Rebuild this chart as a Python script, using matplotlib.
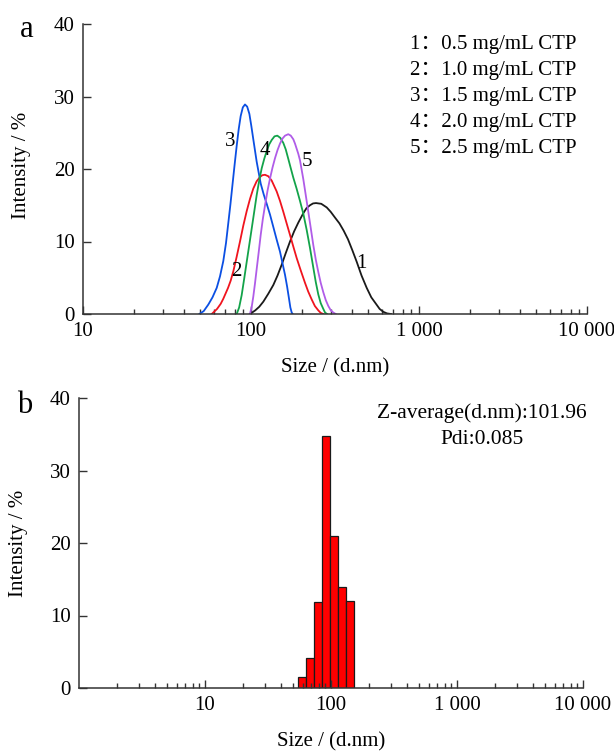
import numpy as np
import matplotlib
matplotlib.use("Agg")
import matplotlib.pyplot as plt
from matplotlib.ticker import LogLocator, NullFormatter

plt.rcParams['font.family'] = ['Liberation Serif', 'Noto Sans CJK SC']

# ---- panel a: intensity distributions for five CTP concentrations ----
size_1 = [98.6, 106, 112, 118.4, 126.8, 135.8, 143.8, 152.3, 161, 170.7,
          180.6, 191.2, 204.8, 214, 224.5, 234, 243.8, 262, 282.3, 298,
          316.2, 336, 356, 377.9, 401, 425.8, 455, 488.4, 520, 554.6,
          583, 613.2, 645, 681.4]
int_1 = [0, 0.5, 1.0, 1.7, 2.8, 4.0, 5.3, 6.8, 8.4, 10.0,
         11.4, 12.6, 13.9, 14.6, 15.0, 15.25, 15.3, 15.2, 14.7, 14.1,
         13.3, 12.5, 11.5, 10.3, 8.8, 7.2, 5.3, 3.6, 2.3, 1.4,
         0.7, 0.3, 0.08, 0]

size_2 = [58.4, 62.8, 66, 68.4, 73.0, 75.7, 78.5, 82, 86.0, 90,
          94.3, 98.7, 103.2, 108, 113.1, 117, 121.2, 126.8, 132.8, 142.2,
          148.8, 155.7, 163, 170.7, 178.6, 187.1, 197.8, 209.6, 219, 229.8,
          240, 251.5, 260, 269.4]
int_2 = [0, 0.7, 1.4, 2.1, 3.6, 4.6, 5.9, 7.8, 10.0, 12.2,
         14.2, 15.9, 17.3, 18.3, 18.9, 19.15, 19.2, 19.0, 18.4, 16.9,
         15.6, 14.1, 12.5, 10.9, 9.3, 7.7, 6.0, 4.3, 3.1, 2.0,
         1.1, 0.5, 0.15, 0]

size_3 = [49.3, 52.3, 55.7, 59.0, 62.5, 65.4, 68.4, 71.0, 73.3, 75.4,
          77.4, 79.8, 82.2, 84.5, 86.8, 89.4, 92.1, 94.9, 97.8, 100.5,
          103.2, 108.1, 114.2, 119, 124.0, 129.8, 135.8, 142, 148.8, 154,
          159.4, 164, 168.4, 171.5, 174.7, 177]
int_3 = [0, 0.4, 1.3, 2.3, 3.6, 5.2, 7.3, 9.8, 12.6, 15.1,
         17.6, 20.5, 23.2, 25.5, 27.3, 28.5, 28.9, 28.6, 27.6, 25.9,
         24.1, 21.0, 18.0, 16.5, 15.2, 13.7, 12.0, 10.3, 8.6, 7.0,
         5.4, 3.8, 2.1, 0.9, 0.2, 0]

size_4 = [82.2, 85, 88.0, 91, 94.3, 97.6, 101, 104.5, 108.1, 111.9,
          115.8, 119.9, 124.1, 128.4, 132.8, 138, 143.4, 149.4, 155.7, 161,
          166.7, 172.5, 178.6, 186.8, 195.7, 205, 214.5, 224.5, 234.9, 243,
          251.5, 260, 269.4, 276, 283.4]
int_4 = [0, 0.9, 2.6, 4.8, 7.2, 9.5, 11.8, 14.1, 16.4, 18.4,
         20.1, 21.4, 22.5, 23.4, 24.0, 24.5, 24.6, 24.3, 23.6, 22.7,
         21.4, 20.1, 18.8, 17.3, 15.6, 13.8, 11.6, 9.1, 6.4, 4.4,
         2.7, 1.5, 0.7, 0.2, 0]

size_5 = [98.6, 101, 103.2, 105.6, 108.1, 111.1, 114.2, 117.6, 121.2, 125.4,
          129.8, 134.3, 139.0, 143.8, 148.8, 154, 159.4, 166.7, 172.5, 178.6,
          182.8, 191.2, 195.7, 204.8, 211.8, 219.3, 227, 234.9, 243, 251.5,
          260, 269.4, 278.8, 288.6, 298.6, 309, 319.3]
int_5 = [0, 1.0, 2.4, 4.2, 6.2, 8.5, 10.9, 13.1, 15.0, 17.0,
         18.7, 20.2, 21.5, 22.6, 23.5, 24.2, 24.6, 24.8, 24.6, 24.1,
         23.5, 22.1, 21.2, 18.6, 16.4, 14.1, 11.8, 9.5, 7.5, 5.8,
         4.3, 3.0, 1.9, 1.1, 0.5, 0.2, 0]

curve_tags = ['1', '2', '3', '4', '5']
concentrations = ['0.5', '1.0', '1.5', '2.0', '2.5']
curve_colors = ['#1a1a1a', '#f0141e', '#0b4fe3', '#13a34a', '#b05ce8']
# where each curve number is written (size, intensity)
tag_size = [456, 82.2, 75.0, 121.2, 214.6]
tag_int = [7.0, 5.8, 23.8, 22.6, 21.0]

# ---- panel b: size histogram of the selected sample ----
bin_size = [58.77, 68.06, 78.82, 91.28, 105.7, 122.4, 141.8]
bin_int = [1.5, 4.1, 11.9, 34.7, 21.0, 14.0, 12.0]
z_average = '101.96'
pdi = '0.085'

xtick_vals = [10, 100, 1000, 10000]
xtick_text = ['10', '100', '1 000', '10 000']

W, H = 614, 751
fig = plt.figure(figsize=(W / 100, H / 100), dpi=100)


def style_axes(ax, xmin):
    ax.set_xscale('log')
    ax.set_xlim(xmin, 10000)
    ax.set_ylim(0, 40)
    ax.spines['top'].set_visible(False)
    ax.spines['right'].set_visible(False)
    for s in ('left', 'bottom'):
        ax.spines[s].set_linewidth(1.1)
        ax.spines[s].set_color('#333333')
    ax.set_xticks(xtick_vals)
    ax.set_xticklabels(xtick_text)
    ax.set_yticks([0, 10, 20, 30, 40])
    ax.xaxis.set_minor_locator(LogLocator(base=10, subs=range(2, 10)))
    ax.xaxis.set_minor_formatter(NullFormatter())
    ax.tick_params(which='both', direction='in', color='#333333', width=1.0)
    ax.tick_params(which='major', length=6, labelsize=15, pad=6)
    ax.tick_params(which='minor', length=3.5)


# panel a
ax1 = fig.add_axes([83 / W, 1 - 314 / H, 504 / W, 290 / H])
style_axes(ax1, 10)
series = [(size_1, int_1), (size_2, int_2), (size_3, int_3),
          (size_4, int_4), (size_5, int_5)]
for (sx, sy), c in zip(series, curve_colors):
    ax1.plot(sx, sy, color=c, lw=1.3, solid_joinstyle='round')
for t, sx, sy in zip(curve_tags, tag_size, tag_int):
    ax1.text(sx, sy, t, fontsize=15, ha='center', va='center')
for i, (t, c) in enumerate(zip(curve_tags, concentrations)):
    fig.text(410 / W, 1 - (45 + i * 25.8) / H, f'{t}：{c} mg/mL CTP',
             fontsize=15, ha='left', va='center')

fig.text(27 / W, 1 - 37 / H, 'a', fontsize=22, ha='center', va='baseline')
fig.text(22 / W, 1 - 165 / H, 'Intensity / %', fontsize=15, rotation=90,
         ha='center', va='center')
fig.text(335 / W, 1 - 368 / H, 'Size / (d.nm)', fontsize=15,
         ha='center', va='center')

# panel b
ax2 = fig.add_axes([79 / W, 1 - 688 / H, 504 / W, 290 / H])
style_axes(ax2, 1)
centers = np.array(bin_size)
ratio = centers[1] / centers[0]
edges = np.concatenate([[centers[0] / np.sqrt(ratio)],
                        np.sqrt(centers[:-1] * centers[1:]),
                        [centers[-1] * np.sqrt(ratio)]])
ax2.bar(edges[:-1], bin_int, width=np.diff(edges), align='edge',
        color='#ff0000', edgecolor='#1a1a1a', linewidth=0.9)

fig.text(482 / W, 1 - 413 / H, f'Z-average(d.nm):{z_average}', fontsize=15.5,
         ha='center', va='center')
fig.text(482 / W, 1 - 440 / H, f'Pdi:{pdi}', fontsize=15.5,
         ha='center', va='center')

fig.text(25 / W, 1 - 413 / H, 'b', fontsize=22, ha='center', va='baseline')
fig.text(19 / W, 1 - 543 / H, 'Intensity / %', fontsize=15, rotation=90,
         ha='center', va='center')
fig.text(331 / W, 1 - 742 / H, 'Size / (d.nm)', fontsize=15,
         ha='center', va='center')

fig.savefig('out.png', dpi=100)
